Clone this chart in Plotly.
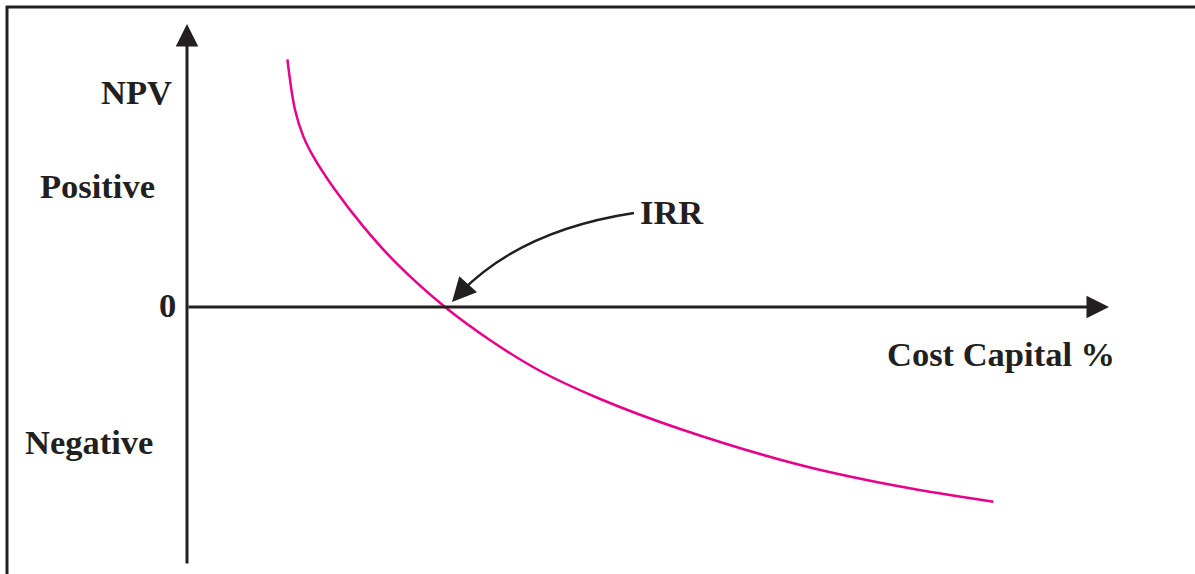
import plotly.graph_objects as go

# curva VPL x custo de capital
custo_capital = [2.51, 2.7, 2.91, 3.16, 3.7, 4.41, 5.24, 6.45,
                 7.58, 8.83, 10.33, 12.33, 15.33, 17.83, 20.16]
vpl = [6.19, 4.93, 4.26, 3.76, 2.93, 2.01, 1.09, 0.0,
       -0.83, -1.6, -2.3, -3.05, -3.95, -4.49, -4.87]

rotulos_y = ["NPV", "Positive", "0", "Negative"]
rotulo_x = "Cost Capital %"
rotulo_tir = "IRR"

W, H = 1195, 574
ORIG_X, ORIG_Y, ESCALA = 187, 307, 40.0
TINTA = "#231f20"
MAGENTA = "#e8008a"
FONTE = dict(family="Liberation Serif, Times New Roman, serif", size=34.5, color=TINTA)


def px_x(p):
    return (p - ORIG_X) / ESCALA


def px_y(p):
    return (ORIG_Y - p) / ESCALA


fig = go.Figure()
fig.add_trace(go.Scatter(
    x=custo_capital, y=vpl, mode="lines",
    line=dict(color=MAGENTA, width=2.5, shape="spline", smoothing=1.0),
    hoverinfo="skip", showlegend=False,
))

anotacoes = []
# eixos com seta
anotacoes.append(dict(x=0, y=px_y(24), ax=0, ay=px_y(565), xref="x", yref="y",
                      axref="x", ayref="y", showarrow=True, arrowhead=2,
                      arrowsize=1.5, arrowwidth=3, arrowcolor=TINTA, text=""))
anotacoes.append(dict(x=px_x(1109), y=0, ax=0, ay=0, xref="x", yref="y",
                      axref="x", ayref="y", showarrow=True, arrowhead=2,
                      arrowsize=1.5, arrowwidth=3, arrowcolor=TINTA, text=""))
# ponta da seta do IRR
anotacoes.append(dict(x=px_x(452), y=px_y(302), ax=px_x(462), ay=px_y(291),
                      xref="x", yref="y", axref="x", ayref="y", showarrow=True,
                      arrowhead=2, arrowsize=2.0, arrowwidth=2.4,
                      arrowcolor=TINTA, text=""))

posicoes_y = [(136, 92), (97, 186), (167, 305), (89, 442)]
for texto, (cx, cy) in zip(rotulos_y, posicoes_y):
    anotacoes.append(dict(x=px_x(cx), y=px_y(cy), text="<b>%s</b>" % texto,
                          showarrow=False, font=FONTE))
anotacoes.append(dict(x=px_x(1001), y=px_y(354), text="<b>%s</b>" % rotulo_x,
                      showarrow=False, font=FONTE))
anotacoes.append(dict(x=px_x(672), y=px_y(212), text="<b>%s</b>" % rotulo_tir,
                      showarrow=False, font=FONTE))

# curva da seta do IRR
p0 = (px_x(634), px_y(213))
c = (px_x(522), px_y(230))
p2 = (px_x(461), px_y(292))
caminho = "M %f,%f Q %f,%f %f,%f" % (p0[0], p0[1], c[0], c[1], p2[0], p2[1])

fig.update_layout(
    width=W, height=H,
    margin=dict(l=0, r=0, t=0, b=0),
    paper_bgcolor="white", plot_bgcolor="white",
    annotations=anotacoes,
    shapes=[
        dict(type="path", path=caminho, xref="x", yref="y",
             line=dict(color=TINTA, width=2.4)),
        dict(type="line", xref="paper", yref="paper", x0=6 / W, x1=1, y0=1 - 7 / H, y1=1 - 7 / H,
             line=dict(color=TINTA, width=3)),
        dict(type="line", xref="paper", yref="paper", x0=7 / W, x1=7 / W, y0=0, y1=1 - 6 / H,
             line=dict(color=TINTA, width=3)),
    ],
)
fig.update_xaxes(range=[px_x(0), px_x(W)], visible=False, fixedrange=True)
fig.update_yaxes(range=[px_y(H), px_y(0)], visible=False, fixedrange=True)

fig.write_html("out.html", config={"displayModeBar": False},
               post_script="document.body.style.margin='0';")
